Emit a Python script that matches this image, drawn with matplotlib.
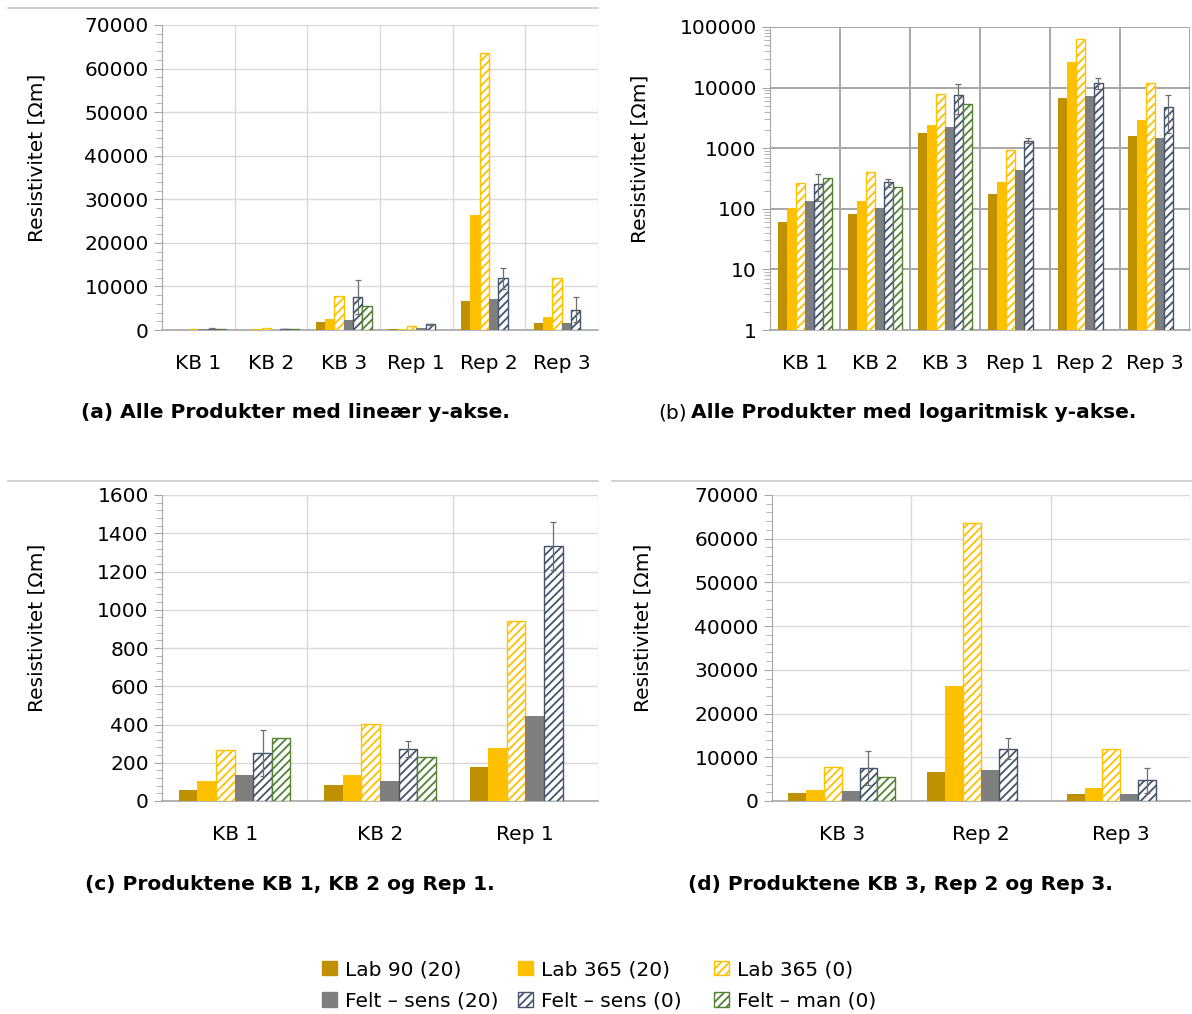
import numpy as np
import matplotlib.pyplot as plt
from matplotlib.patches import Patch
from matplotlib.lines import Line2D
from matplotlib.ticker import MultipleLocator, FixedLocator, LogLocator, NullFormatter

plt.rcParams['font.family'] = ['DejaVu Sans']
plt.rcParams['hatch.linewidth'] = 1.3

products = ['KB 1', 'KB 2', 'KB 3', 'Rep 1', 'Rep 2', 'Rep 3']
series = ['Lab 90 (20)', 'Lab 365 (20)', 'Lab 365 (0)',
          'Felt – sens (20)', 'Felt – sens (0)', 'Felt – man (0)']

lab90_20 = [60, 82, 1800, 178, 6700, 1600]
lab365_20 = [102, 136, 2450, 275, 26300, 2900]
lab365_0 = [268, 405, 7800, 940, 63600, 12000]
felt_sens_20 = [137, 102, 2200, 445, 7200, 1500]
felt_sens_0 = [253, 272, 7600, 1335, 11900, 4700]
felt_sens_0_err = [120, 40, 3900, 125, 2400, 2900]
felt_man_0 = [328, 230, 5400, np.nan, np.nan, np.nan]

values = [lab90_20, lab365_20, lab365_0, felt_sens_20, felt_sens_0, felt_man_0]
errors = [None, None, None, None, felt_sens_0_err, None]

styles = [
    dict(color='#BF9000'),
    dict(color='#FFC000'),
    dict(facecolor='white', edgecolor='#FFC000', hatch='////', linewidth=1),
    dict(color='#7F7F7F'),
    dict(facecolor='white', edgecolor='#44546A', hatch='////', linewidth=1),
    dict(facecolor='white', edgecolor='#548235', hatch='////', linewidth=1),
]

W, H = 1192, 1014
fig = plt.figure(figsize=(W / 100, H / 100), dpi=100)


def px_axes(left, top, right, bottom):
    return fig.add_axes([left / W, 1 - bottom / H, (right - left) / W, (bottom - top) / H])


def draw(ax, idx, label_x, log=False):
    x = np.arange(len(idx))
    w = 0.128
    if log:
        ax.set_yscale('log')
    for i, (vals, err, st) in enumerate(zip(values, errors, styles)):
        v = np.array([vals[j] for j in idx], dtype=float)
        pos = x + (i - 2.5) * w
        ax.bar(pos, v, w, **st, zorder=3)
        if err is not None:
            e = np.array([err[j] for j in idx], dtype=float)
            ax.errorbar(pos, v, yerr=e, fmt='none', ecolor='#6E6E6E',
                        elinewidth=0.9, capsize=2.5, capthick=0.9, zorder=4)
    ax.set_xlim(-0.5, len(idx) - 0.5)
    ax.set_xticks(x)
    ax.set_xticklabels([products[j] for j in idx], fontsize=14.5)
    ax.tick_params(axis='x', length=0, pad=17)
    ax.xaxis.set_minor_locator(FixedLocator(np.arange(0.5, len(idx), 1.0)))
    ax.tick_params(axis='x', which='minor', length=0)
    gcol = '#A6A6A6' if log else '#D9D9D9'
    glw = 1.4 if log else 1.0
    ax.grid(True, which='minor', axis='x', color=gcol, lw=glw, zorder=0)
    ax.grid(True, which='major', axis='y', color=gcol, lw=glw, zorder=0)
    for s in ['top', 'right']:
        ax.spines[s].set_visible(False)
    ax.spines['left'].set_color('#A6A6A6')
    ax.spines['bottom'].set_color('#A6A6A6')
    ax.spines['bottom'].set_linewidth(1.2)
    ax.tick_params(axis='y', which='both', colors='#A6A6A6', labelcolor='black',
                   labelsize=14.5, direction='out')
    ax.tick_params(axis='y', which='major', length=6)
    ax.tick_params(axis='y', which='minor', length=4)
    ax.set_ylabel('Resistivitet [Ωm]', fontsize=14.5)
    ax.yaxis.set_label_coords(label_x, 0.566)
    ax.set_axisbelow(True)


ax_a = px_axes(162, 25, 598, 330)
draw(ax_a, range(6), -0.264)
ax_a.set_ylim(0, 70000)
ax_a.yaxis.set_major_locator(MultipleLocator(10000))
ax_a.yaxis.set_minor_locator(MultipleLocator(2000))

ax_b = px_axes(770, 27, 1190, 330)
draw(ax_b, range(6), -0.286, log=True)
ax_b.set_ylim(1, 100000)
ax_b.yaxis.set_major_locator(FixedLocator([1, 10, 100, 1000, 10000, 100000]))
ax_b.set_yticklabels(['1', '10', '100', '1000', '10000', '100000'])
ax_b.yaxis.set_minor_locator(LogLocator(base=10, subs=np.arange(2, 10)))
ax_b.yaxis.set_minor_formatter(NullFormatter())

ax_c = px_axes(162, 495, 598, 801)
draw(ax_c, [0, 1, 3], -0.264)
ax_c.set_ylim(0, 1600)
ax_c.yaxis.set_major_locator(MultipleLocator(200))
ax_c.yaxis.set_minor_locator(MultipleLocator(40))

ax_d = px_axes(772, 495, 1190, 801)
draw(ax_d, [2, 4, 5], -0.287)
ax_d.set_ylim(0, 70000)
ax_d.yaxis.set_major_locator(MultipleLocator(10000))
ax_d.yaxis.set_minor_locator(MultipleLocator(2000))

# panel separators
for x0, x1, y in [(8, 598, 8), (8, 598, 481), (612, 1192, 481)]:
    fig.add_artist(Line2D([x0 / W, x1 / W], [1 - y / H, 1 - y / H],
                          color='#C8C8C8', lw=1.2))

# captions
cap_kw = dict(fontsize=14.5, fontweight='bold', va='center')
fig.text(295 / W, 1 - 413 / H, '(a) Alle Produkter med lineær y-akse.', ha='center', **cap_kw)
fig.text(687 / W, 1 - 413 / H, '(b)', ha='right', va='center', fontsize=14.5)
fig.text(691 / W, 1 - 413 / H, 'Alle Produkter med logaritmisk y-akse.', ha='left', **cap_kw)
fig.text(290 / W, 1 - 885 / H, '(c) Produktene KB 1, KB 2 og Rep 1.', ha='center', **cap_kw)
fig.text(900 / W, 1 - 885 / H, '(d) Produktene KB 3, Rep 2 og Rep 3.', ha='center', **cap_kw)

# legend: three evenly spaced columns of two entries
handles = [Patch(label=n, **st) for n, st in zip(series, styles)]
for col, x0 in enumerate([318, 514, 710]):
    pair = [col, col + 3]
    fig.legend([handles[i] for i in pair], [series[i] for i in pair],
               loc='upper left', bbox_to_anchor=(x0 / W, 1 - 956 / H),
               frameon=False, fontsize=14.5, handlelength=0.75, handleheight=0.75,
               handletextpad=0.4, labelspacing=0.62, borderaxespad=0, borderpad=0.2)

fig.savefig('out.png', dpi=100, facecolor='white')
